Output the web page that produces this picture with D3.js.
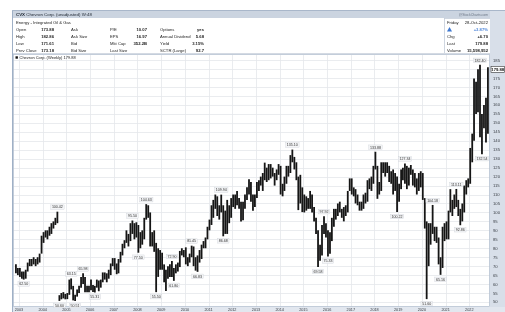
<!DOCTYPE html>
<html>
<head>
<meta charset="utf-8">
<script src="https://cdn.jsdelivr.net/npm/d3@7"></script>
<style>
  body { margin: 0; background: #fff; }
  svg { display: block; font-family: "Liberation Sans", Arial, sans-serif; filter: blur(0.3px); }
</style>
</head>
<body>
<svg id="chart" width="505" height="312"></svg>
<script>
// CVX weekly (unadjusted), summarised per month: high / low of the weekly bars
const firstMonth = "2002-11";

const monthHigh = [
  71, 69,                                                        // 2002
  69, 67, 67, 68, 72, 74, 74, 75, 74, 75, 77, 87,                // 2003
  89, 90, 90, 92, 94, 95, 97, 100.42, 53.8, 55, 55.5, 54.5,      // 2004 (split in Sep)
  55, 62.5, 63.15, 59, 54, 57, 59, 64, 65.98, 64, 59, 59,        // 2005
  62.5, 59.5, 59, 62.5, 62, 62.5, 66.5, 66.5, 66, 68, 71.5, 74.5, // 2006
  74.5, 71.5, 74, 78, 82.5, 84.5, 90, 88, 94, 95.5, 94, 94.5,    // 2007
  93, 89, 90, 97, 104.63, 104, 100, 89, 90, 83, 80, 79,          // 2008
  77.5, 71, 68, 70, 71, 72.9, 69, 71, 72, 78.5, 80, 79,          // 2009
  80.5, 75, 77, 81.45, 81, 75, 76, 79, 82, 84, 86, 92,           // 2010
  96, 104, 107, 110, 109, 104, 109.94, 104, 101, 107, 104, 108,  // 2011
  110, 110, 112, 108, 106, 106, 110, 114, 118.5, 117, 110, 110,  // 2012
  117, 118, 120, 122, 127.8, 125, 127, 127, 125, 122, 124, 127,  // 2013
  126, 116, 120, 126, 126, 132, 135.1, 131, 128, 120, 121, 114,  // 2014
  110, 109, 108, 112, 110, 103, 97, 90, 82, 93, 97.92, 94,       // 2015
  90, 89, 97, 102, 102, 105, 106, 102, 103, 104, 112, 119,       // 2016
  119, 114, 113, 110, 106, 106, 110, 111, 118, 119, 120, 126,    // 2017
  133.88, 126, 117, 128, 128, 128, 128, 126, 123, 124, 122, 120, // 2018
  116, 124, 125, 127.34, 126, 125, 126.5, 124, 122, 119, 122, 123, // 2019
  122, 108, 95, 94, 94, 104.18, 92, 92, 86, 75, 92, 94,          // 2020
  95, 101, 113, 107, 110, 113.11, 107, 102, 105, 115, 118, 119,  // 2021
  136, 144, 174.76, 173, 180, 182.4, 155, 160, 164, 181          // 2022
];

const monthLow = [
  66, 65,                                                        // 2002
  64, 63, 62.5, 63, 67, 70, 70, 71, 70, 71, 72, 77,              // 2003
  83, 86, 85, 87, 88, 91, 93, 94, 50.6, 51.5, 52, 51.5,          // 2004
  51.6, 54, 57, 50.9, 50.51, 53, 55, 58, 60, 55.5, 55.5, 55.5,   // 2005
  56.5, 55.6, 55.31, 58, 56, 58, 61, 62.5, 61, 63, 65, 70,       // 2006
  68, 65.5, 66, 72, 76, 80, 83, 81, 84, 88, 85, 86,              // 2007
  77.5, 80, 82, 85, 96, 97, 81, 81, 78, 55.5, 64, 68,            // 2008
  68, 61, 56.12, 63, 64, 64, 61.8, 66, 67, 69.5, 76, 75,         // 2009
  71, 70, 72, 75, 70, 67.5, 66.83, 72, 74, 80, 80, 85,           // 2010
  90, 93, 97, 102, 98, 96, 100, 86.68, 88, 88, 94, 97,           // 2011
  103, 102, 104, 102, 95, 95.7, 102, 107, 110, 106, 101, 103,    // 2012
  108, 112, 115, 112, 118, 117, 118, 119, 120, 115, 118, 121,    // 2013
  110, 109, 112, 116, 120, 122, 128, 124, 118, 101.3, 105, 100.2, // 2014
  100, 101, 102, 102, 100, 95, 88, 69.58, 73, 76, 88, 86,        // 2015
  75.33, 77, 84, 92, 96, 98, 100, 97, 95, 98, 100, 112,          // 2016
  110, 109, 105, 104, 101, 101, 102, 105, 106, 113, 112, 116,    // 2017
  124, 107.6, 110, 112, 122, 120, 122, 117, 116, 110, 112, 100.22, // 2018
  106, 113, 118, 116, 113, 115, 121, 115, 114, 110, 112, 114,    // 2019
  107, 91, 51.6, 70, 82, 88, 84, 83, 71, 65.16, 69, 84,          // 2020
  85, 85, 100, 98, 102, 103, 98, 92.86, 95, 100, 110, 114,       // 2021
  116, 128, 140, 155, 156, 142, 132.54, 147, 139, 144            // 2022
];

// swing points that carry a price tag on the chart
const swingTags = [
  ["2003-03", "low"], ["2004-08", "high"], ["2004-09", "low"], ["2005-03", "high"],
  ["2005-05", "low"], ["2005-09", "high"], ["2006-03", "low"], ["2007-10", "high"],
  ["2008-01", "low"], ["2008-05", "high"], ["2008-10", "low"], ["2009-06", "high"],
  ["2009-07", "low"], ["2010-04", "high"], ["2010-07", "low"], ["2011-07", "high"],
  ["2011-08", "low"], ["2014-07", "high"], ["2015-08", "low"], ["2015-11", "high"],
  ["2016-01", "low"], ["2018-01", "high"], ["2018-12", "low"], ["2019-04", "high"],
  ["2020-03", "low"], ["2020-06", "high"], ["2020-10", "low"], ["2021-06", "high"],
  ["2021-08", "low"], ["2022-06", "high"], ["2022-07", "low"]
];

const priceTicks = [50, 55, 60, 65, 70, 75, 80, 85, 90, 95, 100, 105, 110, 115, 120,
  125, 130, 135, 140, 145, 150, 155, 160, 165, 170, 175, 180, 185];
const yearTicks = ["2003", "2004", "2005", "2006", "2007", "2008", "2009", "2010", "2011", "2012",
  "2013", "2014", "2015", "2016", "2017", "2018", "2019", "2020", "2021", "2022"];
const lastPrice = 179.88;

const infoRows = [
  ["Open", "173.88", "Ask", "P/E", "10.07", "Options", "yes"],
  ["High", "182.86", "Ask Size", "EPS", "16.97", "Annual Dividend", "5.68"],
  ["Low", "171.61", "Bid", "Mkt Cap", "352.2B", "Yield", "3.15%"],
  ["Prev Close", "173.18", "Bid Size", "Last Size", "", "SCTR (Large)", "92.7"]
];
const quoteRows = [
  ["Friday", "28-Oct-2022"], ["", "+3.87%"], ["Chg", "+6.70"],
  ["Last", "179.88"], ["Volume", "15,598,952"]
];

const svg = d3.select("#chart");
const W = 505, H = 312;
const plot = { left: 13, right: 490, top: 55, bottom: 307 };

const parseMonth = d3.timeParse("%Y-%m");
const start = parseMonth(firstMonth);
const bars = monthHigh.map((h, i) => ({
  key: d3.timeFormat("%Y-%m")(d3.timeMonth.offset(start, i)),
  date: d3.timeDay.offset(d3.timeMonth.offset(start, i), 14),
  high: h,
  low: monthLow[i]
}));

const x = d3.scaleTime()
  .domain([new Date(2002, 9, 1), new Date(2022, 10, 16)])
  .range([plot.left, plot.right]);
const y = d3.scaleLinear()
  .domain([47.2, 187.9])
  .range([plot.bottom, plot.top]);

// frame and panels
svg.append("rect").attr("width", W).attr("height", H).attr("fill", "#fff");
svg.append("rect").attr("x", plot.right).attr("y", 10).attr("width", W - plot.right).attr("height", H - 10)
  .attr("fill", "#d8dfe9");
svg.append("rect").attr("x", 12).attr("y", 10).attr("width", plot.right - 12).attr("height", 8)
  .attr("fill", "#cbd4e0");
svg.append("rect").attr("x", 12).attr("y", plot.bottom).attr("width", W - 12).attr("height", H - plot.bottom)
  .attr("fill", "#e2e7ef");
svg.append("line").attr("x1", 12.5).attr("x2", 12.5).attr("y1", 10).attr("y2", H)
  .attr("stroke", "#9fb0c6").attr("stroke-width", 1);
svg.append("line").attr("x1", 12).attr("x2", W).attr("y1", 10.5).attr("y2", 10.5)
  .attr("stroke", "#a9b7ca").attr("stroke-width", 1);

// plot background + grid
svg.append("rect").attr("x", plot.left).attr("y", plot.top)
  .attr("width", plot.right - plot.left).attr("height", plot.bottom - plot.top)
  .attr("fill", "#fff");

svg.append("g").selectAll("line").data(priceTicks).join("line")
  .attr("x1", plot.left).attr("x2", plot.right)
  .attr("y1", d => Math.round(y(d)) + 0.5).attr("y2", d => Math.round(y(d)) + 0.5)
  .attr("stroke", "#e4e7eb").attr("stroke-width", 0.8);

svg.append("g").selectAll("line").data(yearTicks).join("line")
  .attr("x1", d => Math.round(x(new Date(+d, 0, 1))) + 0.5)
  .attr("x2", d => Math.round(x(new Date(+d, 0, 1))) + 0.5)
  .attr("y1", plot.top).attr("y2", plot.bottom)
  .attr("stroke", "#e4e7eb").attr("stroke-width", 0.8);

svg.append("rect").attr("x", plot.left + 0.5).attr("y", plot.top - 0.5)
  .attr("width", plot.right - plot.left - 1).attr("height", plot.bottom - plot.top)
  .attr("fill", "none").attr("stroke", "#b5c1d1").attr("stroke-width", 0.8);

// price bars
svg.append("g").selectAll("line").data(bars).join("line")
  .attr("x1", d => x(d.date)).attr("x2", d => x(d.date))
  .attr("y1", d => y(d.high)).attr("y2", d => y(d.low))
  .attr("stroke", "#151515").attr("stroke-width", 1.8);

// swing price tags
const tagG = svg.append("g");
swingTags.forEach(([m, kind]) => {
  const b = bars.find(d => d.key === m);
  if (!b) return;
  const v = kind === "high" ? b.high : b.low;
  const cy = kind === "high" ? y(v) - 4.5 : y(v) + 4.5;
  const txt = d3.format(".2f")(v);
  const w = txt.length * 2.0 + 1.5;
  tagG.append("rect").attr("x", x(b.date) - w / 2).attr("y", cy - 2.3)
    .attr("width", w).attr("height", 4.6)
    .attr("fill", "#f4f5f7").attr("stroke", "#c3c8cf").attr("stroke-width", 0.3);
  tagG.append("text").attr("x", x(b.date)).attr("y", cy + 1.3)
    .attr("text-anchor", "middle").attr("font-size", 3.6).attr("fill", "#333")
    .text(txt);
});

// right price axis
svg.append("g").selectAll("text").data(priceTicks.filter(d => Math.abs(y(d) - y(lastPrice)) > 4)).join("text")
  .attr("x", plot.right + 3).attr("y", d => y(d) + 1.5)
  .attr("font-size", 4.2).attr("fill", "#3a3f46")
  .text(d => d);

svg.append("rect").attr("x", plot.right + 1).attr("y", y(lastPrice) - 3)
  .attr("width", 13.5).attr("height", 6)
  .attr("fill", "#fff").attr("stroke", "#333").attr("stroke-width", 0.6);
svg.append("text").attr("x", plot.right + 7.75).attr("y", y(lastPrice) + 1.5)
  .attr("text-anchor", "middle").attr("font-size", 4.2).attr("font-weight", "bold")
  .attr("fill", "#111").text(d3.format(".2f")(lastPrice));

// year labels in the bottom strip
svg.append("g").selectAll("text").data(yearTicks).join("text")
  .attr("x", d => x(new Date(+d, 0, 1))).attr("y", 311.3)
  .attr("text-anchor", "middle").attr("font-size", 3.8).attr("fill", "#3a3f46")
  .text(d => d);

// title bar
svg.append("text").attr("x", 16).attr("y", 16.3).attr("font-size", 4.4).attr("fill", "#1d2530")
  .html('<tspan font-weight="bold">CVX</tspan> Chevron Corp. (unadjusted)  W:48');
svg.append("text").attr("x", 488).attr("y", 15.5).attr("text-anchor", "end")
  .attr("font-size", 3.4).attr("fill", "#6b7685").text("@StockCharts.com");

// info table
const rowY = [22, 29, 36, 43, 50];
svg.append("text").attr("x", 16).attr("y", rowY[0] + 1.5).attr("font-size", 4.2).attr("fill", "#222")
  .text("Energy - Integrated Oil & Gas");
infoRows.forEach((r, i) => {
  const yy = rowY[i + 1] + 1.5;
  const g = svg.append("g").attr("font-size", 4.2).attr("fill", "#222");
  g.append("text").attr("x", 16).attr("y", yy).text(r[0]);
  g.append("text").attr("x", 54).attr("y", yy).attr("text-anchor", "end").attr("font-weight", "bold").text(r[1]);
  g.append("text").attr("x", 71).attr("y", yy).text(r[2]);
  g.append("text").attr("x", 110).attr("y", yy).text(r[3]);
  g.append("text").attr("x", 147).attr("y", yy).attr("text-anchor", "end").attr("font-weight", "bold").text(r[4]);
  g.append("text").attr("x", 160).attr("y", yy).text(r[5]);
  g.append("text").attr("x", 204).attr("y", yy).attr("text-anchor", "end").attr("font-weight", "bold").text(r[6]);
});

// quote box on the right
svg.append("line").attr("x1", 444.5).attr("x2", 444.5).attr("y1", 18).attr("y2", 53)
  .attr("stroke", "#c3ccd8").attr("stroke-width", 0.8);
svg.append("line").attr("x1", 444).attr("x2", plot.right).attr("y1", 18.5).attr("y2", 18.5)
  .attr("stroke", "#c3ccd8").attr("stroke-width", 0.8);
quoteRows.forEach((r, i) => {
  const yy = rowY[i] + 1.5;
  svg.append("text").attr("x", 447).attr("y", yy).attr("font-size", 4.2).attr("fill", "#222").text(r[0]);
  svg.append("text").attr("x", 488).attr("y", yy).attr("text-anchor", "end").attr("font-size", 4.2)
    .attr("font-weight", i === 0 ? "normal" : "bold")
    .attr("fill", i === 1 ? "#4f86d9" : "#222").text(r[1]);
});
svg.append("path").attr("d", "M447,31.5 L449.5,27 L452,31.5 Z").attr("fill", "#3e78d0");

svg.append("line").attr("x1", 13).attr("x2", plot.right).attr("y1", 53.5).attr("y2", 53.5)
  .attr("stroke", "#c9d1dc").attr("stroke-width", 0.8);

// legend
svg.append("rect").attr("x", 15.5).attr("y", 56.3).attr("width", 2.4).attr("height", 2.4).attr("fill", "#111");
svg.append("text").attr("x", 19.5).attr("y", 58.9).attr("font-size", 4).attr("fill", "#222")
  .text("Chevron Corp. (Weekly)  179.88");
</script>
</body>
</html>
